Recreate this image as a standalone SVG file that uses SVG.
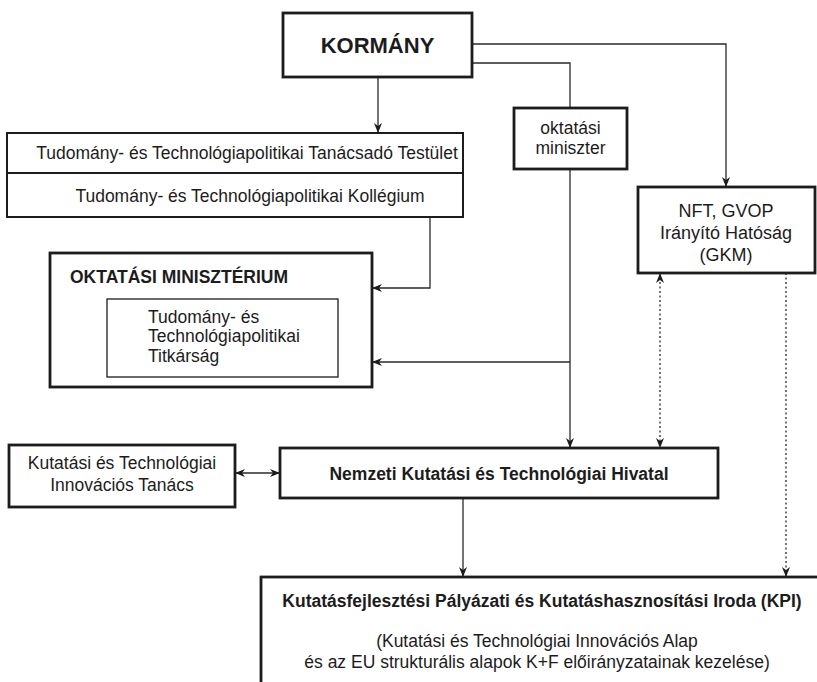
<svg xmlns="http://www.w3.org/2000/svg" width="817" height="682" viewBox="0 0 817 682">
<defs>
<style>
.box{fill:#fff;stroke:#1c1c1c;stroke-width:2.8}
.mid{fill:#fff;stroke:#1c1c1c;stroke-width:2}
.thin{fill:#fff;stroke:#1c1c1c;stroke-width:1.3}
.t{font-family:"Liberation Sans",Arial,sans-serif;font-size:17.5px;fill:#1c1c1c}
.b{font-weight:bold}
.c{text-anchor:middle}
.ln{fill:none;stroke:#2a2a2a;stroke-width:1.3}
.dot{stroke-dasharray:2 2.5}
</style>
<marker id="ah" viewBox="0 0 10 8" refX="10" refY="4" markerWidth="10" markerHeight="8" markerUnits="userSpaceOnUse" orient="auto-start-reverse">
<path d="M0,0 L10,4 L0,8 L3,4 z" fill="#1c1c1c"/>
</marker>
</defs>
<rect width="817" height="682" fill="#fff"/>

<g id="connectors">
<path class="ln" d="M378,77 V133" marker-end="url(#ah)"/>
<path class="ln" d="M472,44 H726 V187" marker-end="url(#ah)"/>
<path class="ln" d="M472,63 H570 V108"/>
<path class="ln" d="M570,169 V448" marker-end="url(#ah)"/>
<path class="ln" d="M570,362 H372" marker-end="url(#ah)"/>
<path class="ln" d="M430,217 V288 H372" marker-end="url(#ah)"/>
<path class="ln" d="M235,473 H280" marker-start="url(#ah)" marker-end="url(#ah)"/>
<path class="ln" d="M463,498 V577" marker-end="url(#ah)"/>
<path class="ln dot" d="M660,273 V448" marker-start="url(#ah)" marker-end="url(#ah)"/>
<path class="ln dot" d="M786,273 V577" marker-end="url(#ah)"/>
</g>

<g id="kormany">
<rect class="box" x="283" y="13" width="189" height="64"/>
<text class="t b c" x="377.5" y="53" style="font-size:22px">KORMÁNY</text>
</g>

<g id="tudomany">
<rect class="mid" x="7" y="133" width="456" height="84"/>
<line x1="7" y1="173" x2="463" y2="173" stroke="#1c1c1c" stroke-width="2"/>
<text class="t c" x="247" y="159">Tudomány- és Technológiapolitikai Tanácsadó Testület</text>
<text class="t c" x="250" y="202">Tudomány- és Technológiapolitikai Kollégium</text>
</g>

<g id="oktatasi-miniszter">
<rect class="box" x="514" y="108" width="113" height="61"/>
<text class="t c" x="570.5" y="134">oktatási</text>
<text class="t c" x="570.5" y="154">miniszter</text>
</g>

<g id="nft">
<rect class="box" x="638" y="187" width="177" height="86"/>
<text class="t c" x="726" y="217" style="font-size:18px">NFT, GVOP</text>
<text class="t c" x="726" y="239" style="font-size:18px">Irányító Hatóság</text>
<text class="t c" x="726" y="261" style="font-size:18px">(GKM)</text>
</g>

<g id="oktatasi-miniszterium">
<rect class="box" x="50" y="253" width="322" height="134"/>
<text class="t b" x="70" y="283">OKTATÁSI MINISZTÉRIUM</text>
<g id="titkarsag">
<rect class="thin" x="107" y="299" width="231" height="78"/>
<text class="t" x="148" y="323">Tudomány- és</text>
<text class="t" x="148" y="342">Technológiapolitikai</text>
<text class="t" x="148" y="362">Titkárság</text>
</g>
</g>

<g id="kutatasi-tanacs">
<rect class="box" x="9" y="445" width="226" height="62"/>
<text class="t c" x="122" y="469">Kutatási és Technológiai</text>
<text class="t c" x="122" y="491">Innovációs Tanács</text>
</g>

<g id="nemzeti-hivatal">
<rect class="box" x="280" y="448" width="438" height="50"/>
<text class="t b c" x="499" y="480">Nemzeti Kutatási és Technológiai Hivatal</text>
</g>

<g id="kpi">
<rect class="box" x="261" y="577" width="580" height="130"/>
<text class="t b c" x="542" y="607">Kutatásfejlesztési Pályázati és Kutatáshasznosítási Iroda (KPI)</text>
<text class="t c" x="537" y="647">(Kutatási és Technológiai Innovációs Alap</text>
<text class="t c" x="537" y="668">és az EU strukturális alapok K+F előirányzatainak kezelése)</text>
</g>
</svg>
